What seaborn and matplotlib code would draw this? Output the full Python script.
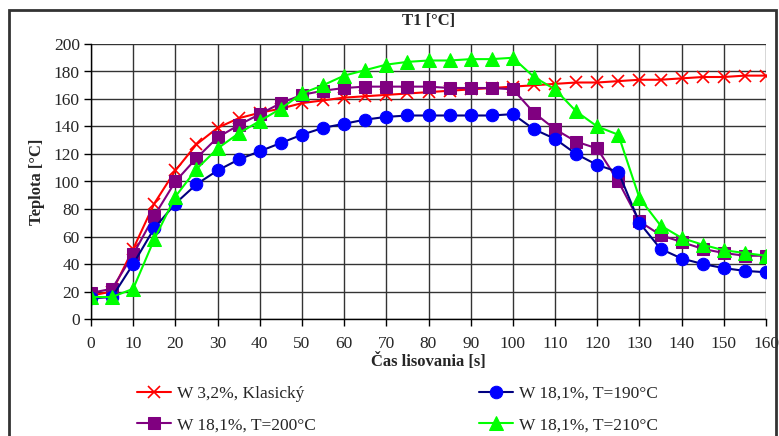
import pandas as pd
import matplotlib.pyplot as plt
import seaborn as sns
from matplotlib.patches import Rectangle

# time axis [s]
time_s = list(range(0, 165, 5))

# series values [°C]
klasicky = [17, 20, 51, 84, 108, 127, 139, 146, 150, 153, 157, 159, 161, 162, 163, 164, 165,
            166, 167, 168, 169, 170, 171, 172, 172, 173, 174, 174, 175, 176, 176, 177, 177]
t190 = [15, 16, 40, 66, 84, 98, 108, 116, 122, 128, 134, 139, 142, 145, 147, 148, 148,
        148, 148, 148, 149, 138, 131, 120, 112, 107, 70, 51, 44, 40, 37, 35, 34]
t200 = [19, 22, 47, 75, 100, 117, 132, 141, 149, 157, 163, 166, 168, 169, 169, 169, 169,
        168, 168, 168, 167, 150, 138, 129, 124, 100, 71, 61, 56, 51, 48, 46, 46]
t210 = [16, 16, 22, 58, 89, 109, 124, 135, 144, 153, 164, 170, 177, 181, 185, 187, 188,
        188, 189, 189, 190, 176, 167, 151, 140, 134, 88, 68, 59, 54, 50, 48, 46]

labels = ['W 3,2%, Klasický', 'W 18,1%, T=190°C', 'W 18,1%, T=200°C', 'W 18,1%, T=210°C']

sns.set_style('white')
plt.rcParams['font.family'] = ['Liberation Serif', 'DejaVu Serif']

fig = plt.figure(figsize=(7.79, 4.36), dpi=100)
ax = fig.add_axes([91 / 779, 1 - 319 / 436, (766 - 91) / 779, (319 - 44) / 436])

# red: x markers
sns.lineplot(x=time_s, y=klasicky, ax=ax, color='#FF0000', lw=1.5, marker='x',
             markersize=9, markeredgewidth=1.2, markeredgecolor='#FF0000', label=labels[0])
# purple squares
sns.lineplot(x=time_s, y=t200, ax=ax, color='#800080', lw=1.5, marker='s',
             markersize=9, markerfacecolor='#800080', markeredgecolor='#800080', label=labels[2])
# navy line with blue circles
sns.lineplot(x=time_s, y=t190, ax=ax, color='#000080', lw=1.5, marker='o',
             markersize=9, markerfacecolor='#0000FF', markeredgecolor='#0000FF', label=labels[1])
# green triangles
sns.lineplot(x=time_s, y=t210, ax=ax, color='#00FF00', lw=1.5, marker='^',
             markersize=10, markerfacecolor='#00FF00', markeredgecolor='#00FF00', label=labels[3])

ax.set_xlim(0, 160)
ax.set_ylim(0, 200)
ax.set_xticks(range(0, 161, 10))
ax.set_yticks(range(0, 201, 20))
ax.grid(True, color='#333333', lw=1)
ax.set_axisbelow(True)
for side in ['top', 'right']:
    ax.spines[side].set_visible(False)
for side in ['left', 'bottom']:
    ax.spines[side].set_color('black')
    ax.spines[side].set_linewidth(1)
ax.tick_params(axis='both', direction='out', length=5, width=1, color='black',
               labelsize=12.5, pad=3, bottom=True, left=True)
ax.tick_params(axis='x', pad=7)

ax.set_title('T1 [°C]', fontsize=12, fontweight='bold', pad=14)
ax.set_xlabel('Čas lisovania [s]', fontsize=12, fontweight='bold', labelpad=1)
ax.set_ylabel('Teplota [°C]', fontsize=12, fontweight='bold', labelpad=6)

# legend under the plot, two columns
handles, lbls = ax.get_legend_handles_labels()
ax.legend_.remove()
order = [0, 1, 2, 3]  # red, purple | blue, green (column-wise fill)
fig.legend([handles[i] for i in order], [lbls[i] for i in order], ncol=2,
           loc='upper left', bbox_to_anchor=(121 / 779, 1 - 370 / 436), frameon=False,
           fontsize=12.5, handlelength=2.0, handletextpad=0.3, columnspacing=9.4,
           labelspacing=0.9)

# outer chart border
fig.patches.append(Rectangle((9 / 779, -0.05), (776 - 9) / 779, 1.05 - 10 / 436,
                             transform=fig.transFigure, fill=False,
                             edgecolor='#333333', lw=2))

fig.savefig('out.png', dpi=100)
